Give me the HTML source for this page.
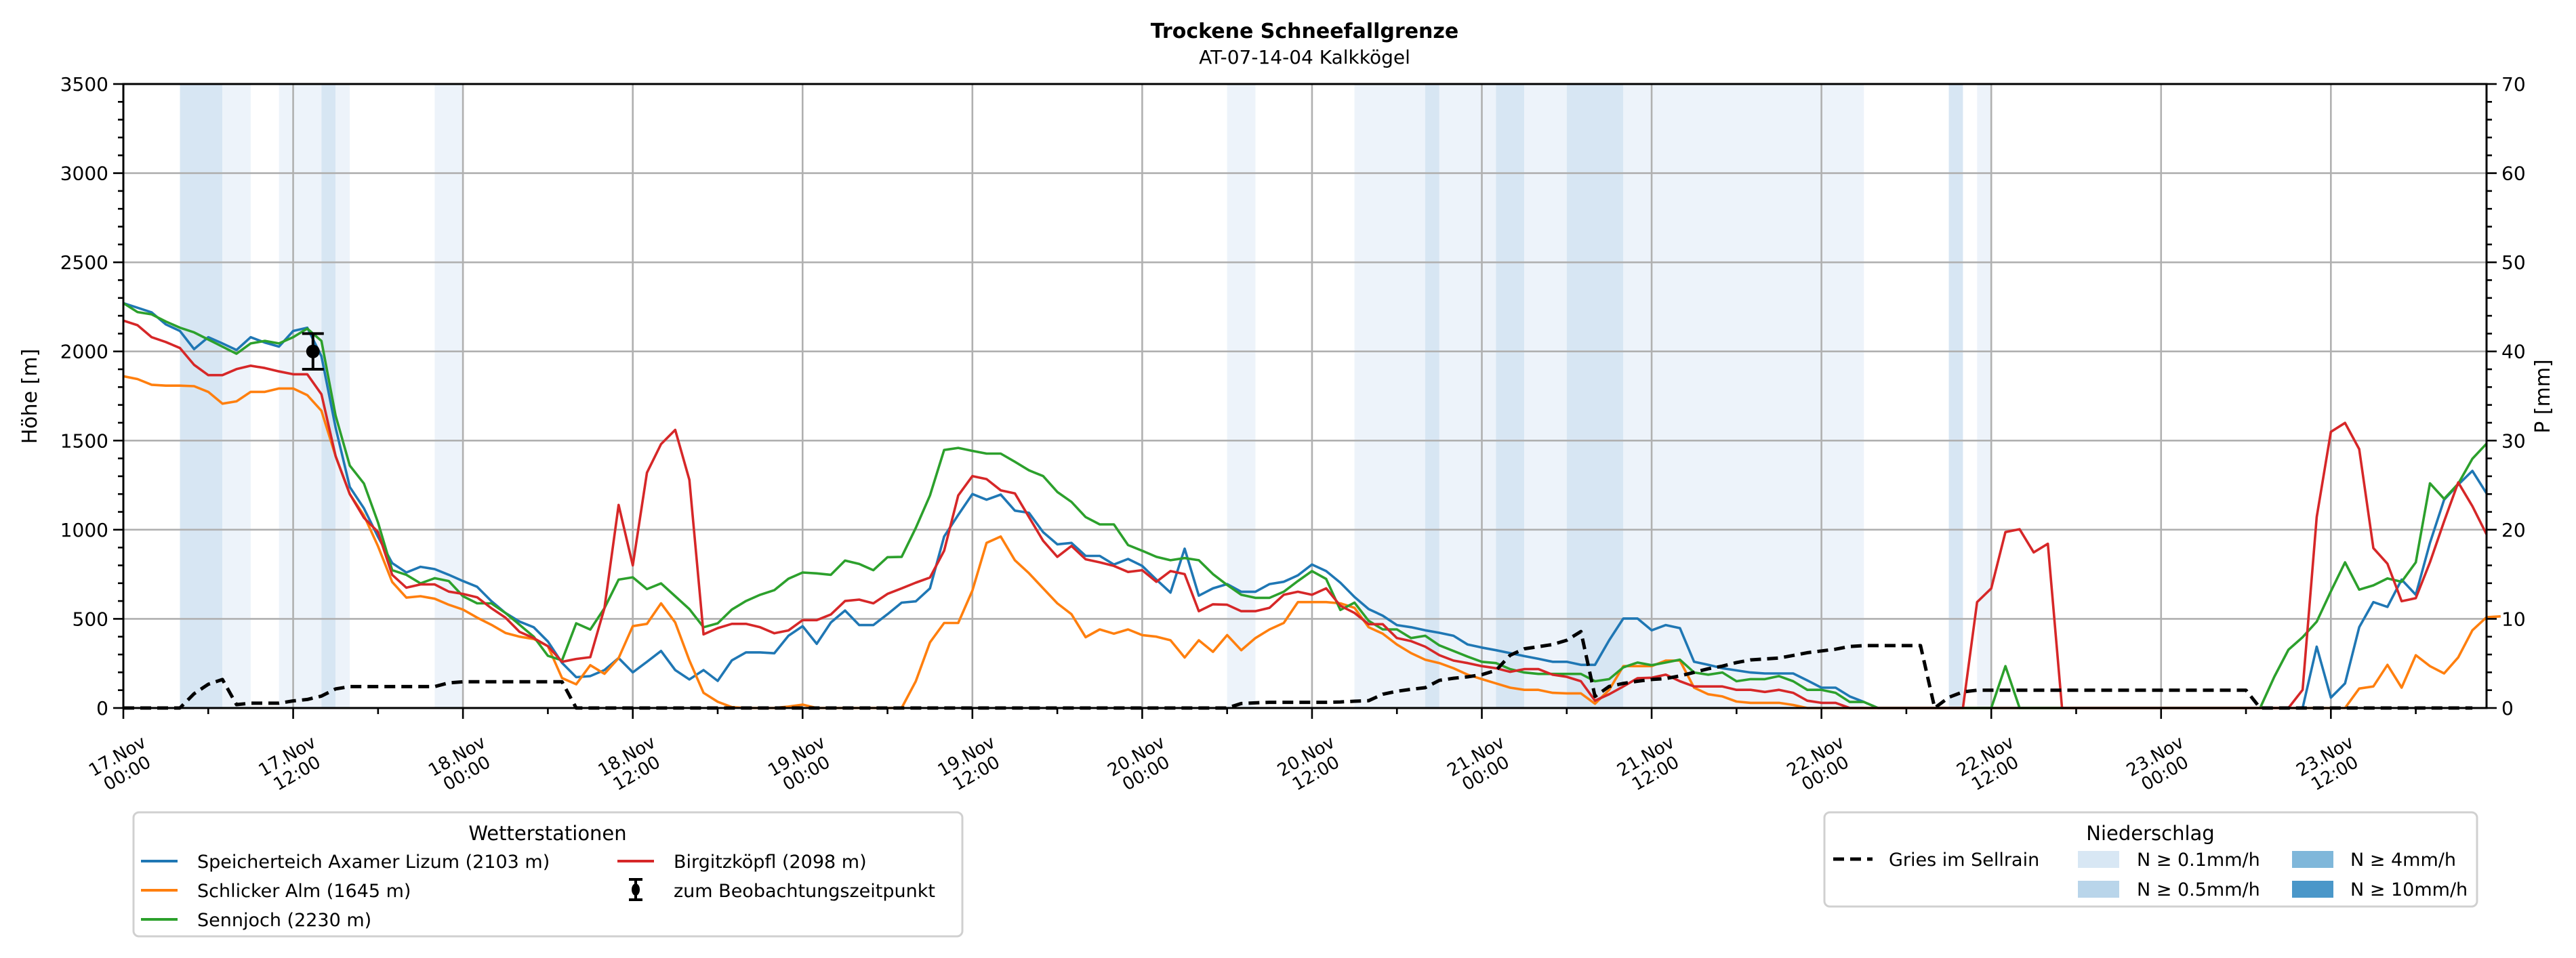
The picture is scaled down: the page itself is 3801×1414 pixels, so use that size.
<!DOCTYPE html>
<html><head><meta charset="utf-8">
<style>
html,body{margin:0;padding:0;background:#fff;}
svg{display:block;font-family:"DejaVu Sans","Liberation Sans",sans-serif;}
</style></head>
<body>
<svg id="chart" width="3801" height="1414" viewBox="0 0 3801 1414" xmlns="http://www.w3.org/2000/svg">
<rect x="0" y="0" width="3801" height="1414" fill="#fff"/>
<g id="bands"></g>
<g id="grid"></g>
<g id="series"></g>
<g id="axes"></g>
<text x="1925" y="56" text-anchor="middle" font-size="30" font-weight="bold">Trockene Schneefallgrenze</text>
<text x="1925" y="94" text-anchor="middle" font-size="28">AT-07-14-04 Kalkkögel</text>
<text transform="translate(54,585) rotate(-90)" text-anchor="middle" font-size="30">Höhe [m]</text>
<text transform="translate(3762,585) rotate(-90)" text-anchor="middle" font-size="30">P [mm]</text>

<g>
<rect x="197" y="1199" width="1223" height="183" rx="8" fill="#fff" stroke="#d0d0d0" stroke-width="3"/>
<text x="808" y="1240" text-anchor="middle" font-size="29">Wetterstationen</text>
<g><line x1="208" y1="1271" x2="262" y2="1271" stroke="#1f77b4" stroke-width="4"/><text x="291" y="1281" font-size="27">Speicherteich Axamer Lizum (2103 m)</text></g>
<g><line x1="208" y1="1314" x2="262" y2="1314" stroke="#ff7f0e" stroke-width="4"/><text x="291" y="1324" font-size="27">Schlicker Alm (1645 m)</text></g>
<g><line x1="208" y1="1357" x2="262" y2="1357" stroke="#2ca02c" stroke-width="4"/><text x="291" y="1367" font-size="27">Sennjoch (2230 m)</text></g>
<g><line x1="911" y1="1271" x2="965" y2="1271" stroke="#d62728" stroke-width="4"/><text x="994" y="1281" font-size="27">Birgitzköpfl (2098 m)</text></g>
<g><line x1="938" y1="1298" x2="938" y2="1328" stroke="#000" stroke-width="4"/><line x1="928" y1="1298" x2="948" y2="1298" stroke="#000" stroke-width="4"/><line x1="928" y1="1328" x2="948" y2="1328" stroke="#000" stroke-width="4"/><ellipse cx="938" cy="1313" rx="6" ry="9" fill="#000"/><text x="994" y="1324" font-size="27">zum Beobachtungszeitpunkt</text></g>
</g>

<g>
<rect x="2692" y="1199" width="963" height="139" rx="8" fill="#fff" stroke="#d0d0d0" stroke-width="3"/>
<text x="3173" y="1240" text-anchor="middle" font-size="29">Niederschlag</text>
<g><line x1="2705" y1="1268" x2="2763" y2="1268" stroke="#000" stroke-width="5" stroke-dasharray="16,9"/><text x="2787" y="1278" font-size="27">Gries im Sellrain</text></g>
<g><rect x="3066" y="1256" width="61" height="25" fill="#d8e7f4"/><text x="3153" y="1278" font-size="27">N ≥ 0.1mm/h</text></g>
<g><rect x="3066" y="1300" width="61" height="25" fill="#b9d5ea"/><text x="3153" y="1322" font-size="27">N ≥ 0.5mm/h</text></g>
<g><rect x="3382" y="1256" width="61" height="25" fill="#7fb7da"/><text x="3468" y="1278" font-size="27">N ≥ 4mm/h</text></g>
<g><rect x="3382" y="1300" width="61" height="25" fill="#4a97c9"/><text x="3468" y="1322" font-size="27">N ≥ 10mm/h</text></g>
</g>
</svg>
<script>
const speicherteich = [2271,2245,2219,2152,2115,2013,2080,2045,2008,2080,2050,2027,2115,2133,1973,1573,1240,1120,960,813,760,792,779,747,712,680,600,533,485,453,373,253,173,179,213,280,200,259,320,213,160,213,152,267,312,312,307,405,459,360,480,547,465,465,526,591,598,671,962,1083,1200,1168,1197,1107,1095,986,918,926,853,853,805,836,797,720,647,894,630,671,695,652,652,695,708,744,805,768,703,623,555,518,465,453,436,422,405,356,339,324,308,291,276,259,259,242,242,380,502,502,436,465,448,259,242,223,211,199,194,194,194,155,114,114,65,34,0,0,0,0,0,0,0,0,0,0,0,0,0,0,0,0,0,0,0,0,0,0,0,0,0,0,0,0,0,0,0,344,58,138,453,594,567,720,635,926,1168,1253,1330,1204];
const schlicker = [1861,1845,1813,1808,1808,1805,1773,1707,1720,1773,1773,1792,1792,1755,1667,1413,1200,1080,907,707,619,627,613,579,552,507,467,421,400,387,347,168,133,240,192,280,459,472,587,480,267,85,35,5,0,0,0,8,19,0,0,0,0,0,0,0,150,368,477,477,659,926,962,829,756,671,587,526,397,441,417,441,409,400,380,283,380,315,409,324,392,441,477,594,594,594,587,562,453,417,356,308,271,252,223,187,162,138,114,102,102,85,82,82,24,102,235,235,235,266,266,114,77,65,36,29,29,29,17,0,0,0,0,0,0,0,0,0,0,0,0,0,0,0,0,0,0,0,0,0,0,0,0,0,0,0,0,0,0,0,0,0,0,0,0,0,0,0,109,121,242,114,296,235,194,284,436,509,514];
const sennjoch = [2271,2221,2208,2168,2133,2107,2067,2027,1987,2045,2059,2045,2080,2128,2059,1640,1360,1259,1040,773,747,699,728,712,627,587,587,533,467,400,293,267,475,440,560,720,733,667,699,627,555,453,475,552,600,635,661,725,760,755,747,827,808,773,846,848,1010,1192,1447,1459,1442,1427,1427,1381,1333,1301,1212,1156,1071,1030,1030,914,882,848,829,841,829,751,690,635,618,618,652,712,768,724,550,591,489,441,441,392,405,351,320,288,259,252,218,199,191,191,191,191,150,162,228,255,240,255,271,199,187,199,150,162,162,179,150,102,102,85,34,34,0,0,0,0,0,0,0,0,0,235,0,0,0,0,0,0,0,0,0,0,0,0,0,0,0,0,0,0,175,327,397,484,654,817,664,688,727,708,817,1260,1173,1258,1398,1483];
const birgitz = [2173,2147,2080,2053,2019,1925,1867,1867,1901,1920,1907,1888,1872,1872,1760,1413,1200,1067,987,747,675,693,693,653,640,621,560,507,427,392,347,259,275,285,560,1139,800,1320,1480,1560,1280,413,448,472,472,453,419,435,493,493,525,600,608,587,640,671,703,732,882,1192,1301,1284,1221,1204,1071,938,848,909,834,817,797,763,773,708,768,751,543,582,579,543,543,562,635,652,635,671,574,533,470,470,392,375,344,296,266,252,235,223,203,218,218,187,175,150,41,77,121,167,170,187,150,121,121,121,102,102,90,102,85,41,29,29,0,0,0,0,0,0,0,0,0,594,671,987,1003,873,921,0,0,0,0,0,0,0,0,0,0,0,0,0,0,0,0,0,102,1071,1549,1599,1452,897,809,599,616,817,1047,1265,1132,974];
const gries = [0,0,0,0,0,80,133,160,19,27,27,27,40,48,67,107,120,120,120,120,120,120,120,141,147,147,147,147,147,147,147,147,0,0,0,0,0,0,0,0,0,0,0,0,0,0,0,0,0,0,0,0,0,0,0,0,0,0,0,0,0,0,0,0,0,0,0,0,0,0,0,0,0,0,0,0,0,0,0,25,29,32,32,32,32,32,34,38,41,77,94,105,114,155,167,175,187,211,296,332,344,356,380,429,65,121,138,150,160,165,180,200,220,235,255,270,275,280,295,310,320,330,345,350,350,350,350,350,0,60,90,100,100,100,100,100,100,100,100,100,100,100,100,100,100,100,100,100,100,100,100,0,0,0,0,0,0,0,0,0,0,0,0,0,0,0,0];
const bandStarts = [4,7,11,14,15,22,78,87,92,93,97,99,102,106,129,131];
const bandEnds   = [7,9,14,15,16,24,80,92,93,97,99,102,106,123,130,132];
const bandLevels = [2,1,1,2,1,1,1,1,2,1,2,1,2,1,2,1];
const obsHour = [13.4];
const obsValue = [2000];
const obsLow = [1900];
const obsHigh = [2100];
const xTickDays = ["17.Nov","17.Nov","18.Nov","18.Nov","19.Nov","19.Nov","20.Nov","20.Nov","21.Nov","21.Nov","22.Nov","22.Nov","23.Nov","23.Nov"];
const xTickTimes = ["00:00","12:00","00:00","12:00","00:00","12:00","00:00","12:00","00:00","12:00","00:00","12:00","00:00","12:00"];
const yTicks = [0,500,1000,1500,2000,2500,3000,3500];
const y2Ticks = [0,10,20,30,40,50,60,70];

const NS="http://www.w3.org/2000/svg";
const X0=182,X1=3669,Y0=124,Y1=1045,HMAX=167,VMAX=3500,PMAX=70;
function xs(h){return X0+(X1-X0)*h/HMAX;}
function ys(v){return Y1-(Y1-Y0)*v/VMAX;}
function y2s(p){return Y1-(Y1-Y0)*p/PMAX;}
function mk(tag,attrs,parent){const e=document.createElementNS(NS,tag);for(const k in attrs)e.setAttribute(k,attrs[k]);parent.appendChild(e);return e;}

const gB=document.getElementById('bands');
for(let i=0;i<bandStarts.length;i++){
  const r=mk('rect',{x:xs(bandStarts[i]),y:Y0,width:xs(bandEnds[i])-xs(bandStarts[i]),height:Y1-Y0,fill:bandLevels[i]===2?'#d7e6f3':'#edf3fa'},gB);
  
  
}
const gG=document.getElementById('grid');
for(let i=0;i<xTickDays.length;i++){
  const l=mk('line',{x1:xs(i*12),x2:xs(i*12),y1:Y0,y2:Y1,stroke:'#b0b0b0','stroke-width':2.6},gG);
  
  
}
for(const v of yTicks){
  const l=mk('line',{x1:X0,x2:X1,y1:ys(v),y2:ys(v),stroke:'#b0b0b0','stroke-width':2.6},gG);
  
  
}
const gS=document.getElementById('series');
function drawLine(arr,color,name,dash){
  const pts=arr.map((v,i)=>xs(i).toFixed(1)+','+ys(v).toFixed(1)).join(' ');
  const a={points:pts,fill:'none',stroke:color,'stroke-width':dash?5:3.6,'stroke-linejoin':'round'};
  if(dash)a['stroke-dasharray']='16,9';
  const p=mk('polyline',a,gS);
  
  
}
drawLine(speicherteich,'#1f77b4','line-speicherteich');
drawLine(schlicker,'#ff7f0e','line-schlicker-alm');
drawLine(sennjoch,'#2ca02c','line-sennjoch');
drawLine(birgitz,'#d62728','line-birgitzkoepfl');
drawLine(gries,'#000','line-gries-im-sellrain',true);
for(let i=0;i<obsHour.length;i++){
  const g=mk('g',{},gS);
  
  
  const x=xs(obsHour[i]);
  mk('line',{x1:x,x2:x,y1:ys(obsLow[i]),y2:ys(obsHigh[i]),stroke:'#000','stroke-width':4},g);
  mk('line',{x1:x-16,x2:x+16,y1:ys(obsLow[i]),y2:ys(obsLow[i]),stroke:'#000','stroke-width':4},g);
  mk('line',{x1:x-16,x2:x+16,y1:ys(obsHigh[i]),y2:ys(obsHigh[i]),stroke:'#000','stroke-width':4},g);
  mk('circle',{cx:x,cy:ys(obsValue[i]),r:10,fill:'#000'},g);
}
const gA=document.getElementById('axes');
const frame=mk('rect',{x:X0,y:Y0,width:X1-X0,height:Y1-Y0,fill:'none',stroke:'#000','stroke-width':3},gA);


for(let h=0;h<=HMAX;h+=6){
  const major=h%12===0;
  const t=mk('line',{x1:xs(h),x2:xs(h),y1:Y1,y2:Y1+(major?16:9),stroke:'#000','stroke-width':2.6},gA);
  
  
}
for(let i=0;i<xTickDays.length;i++){
  const g=mk('g',{transform:'translate('+(xs(i*12)-2)+',1128) rotate(-30)','font-size':26,'text-anchor':'middle'},gA);
  
  
  const t1=mk('text',{x:0,y:-5},g);t1.textContent=xTickDays[i];
  const t2=mk('text',{x:0,y:24},g);t2.textContent=xTickTimes[i];
}
for(let v=0;v<=VMAX;v+=100){
  const major=v%500===0;
  const t=mk('line',{x1:X0-(major?15:8),x2:X0,y1:ys(v),y2:ys(v),stroke:'#000','stroke-width':2.6},gA);
  
  
}
for(const v of yTicks){
  const t=mk('text',{x:X0-22,y:ys(v)+10,'text-anchor':'end','font-size':28},gA);
  
  
  t.textContent=v;
}
for(let p=0;p<=PMAX;p+=2){
  const major=p%10===0;
  const t=mk('line',{x1:X1,x2:X1+(major?15:8),y1:y2s(p),y2:y2s(p),stroke:'#000','stroke-width':2.6},gA);
  
  
}
for(const p of y2Ticks){
  const t=mk('text',{x:X1+22,y:y2s(p)+10,'text-anchor':'start','font-size':28},gA);
  
  
  t.textContent=p;
}
</script>
</body></html>
